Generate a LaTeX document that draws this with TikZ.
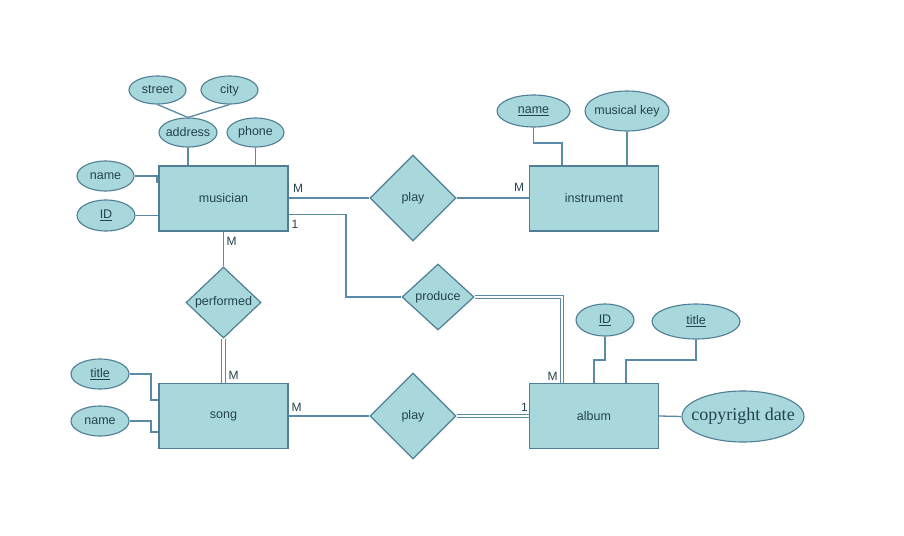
\documentclass[tikz,border=0pt]{standalone}
\usepackage{fontspec}
\setmainfont{Liberation Sans}
\newfontfamily\serifcd{Liberation Serif}
\usetikzlibrary{shapes.geometric}
\definecolor{efill}{HTML}{A8D8DB}
\definecolor{edraw}{HTML}{4F7E95}
\definecolor{lcol}{HTML}{5A8AA5}
\definecolor{tcol}{HTML}{24424F}
\newcommand{\zw}[1]{\makebox[0pt]{#1}}
\begin{document}
\begin{tikzpicture}[x=1pt,y=-1pt, font=\fontsize{12.5}{14}\selectfont, text=tcol,
 entity/.style={rectangle, draw=edraw, fill=efill, line width=1.3pt, minimum width=129pt, minimum height=65pt, inner sep=0},
 rel/.style={diamond, draw=edraw, fill=efill, line width=1.2pt, inner sep=0},
 attr/.style={ellipse, draw=edraw, fill=efill, line width=1.1pt, inner sep=0},
 conn/.style={draw=lcol, line width=1.3pt},
 dbl/.style={draw=lcol, line width=1.1pt, double=white, double distance=2.6pt},
 card/.style={inner sep=0, font=\fontsize{12}{14}\selectfont}]
\fill[white] (0,0) rectangle (904,535);
\useasboundingbox (0,0) rectangle (904,535);

% entities
\node[entity] (mus) at (223.5,198.5) {\raisebox{-1pt}{musician}};
\node[entity] (inst) at (594,198.5) {\raisebox{-1pt}{instrument}};
\node[entity] (song) at (223.5,416) {\raisebox{-1pt}{song}};
\node[entity] (alb) at (594,416) {\raisebox{-1pt}{album}};

% relationships
\node[rel, minimum width=86pt, minimum height=86pt] (play1) at (413,198) {\zw{play}};
\node[rel, minimum width=75pt, minimum height=71pt] (perf) at (223.5,302.5) {\zw{performed}};
\node[rel, minimum width=72pt, minimum height=66pt] (prod) at (438,297) {\zw{produce}};
\node[rel, minimum width=86pt, minimum height=86pt] (play2) at (413,416) {\zw{play}};

% attributes
\node[attr, minimum width=57pt, minimum height=28pt] (street) at (157.5,90) {\zw{street}};
\node[attr, minimum width=57pt, minimum height=28pt] (city) at (229.5,90) {\zw{city}};
\node[attr, minimum width=58pt, minimum height=29pt] (addr) at (188,132.5) {\zw{address}};
\node[attr, minimum width=57pt, minimum height=29pt] (phone) at (255.5,132.5) {\zw{phone}};
\node[attr, minimum width=57pt, minimum height=30pt] (mname) at (105.5,176) {\zw{name}};
\node[attr, minimum width=58pt, minimum height=31pt] (mid) at (106,215.5) {\zw{\underline{ID}}};
\node[attr, minimum width=73pt, minimum height=32pt] (iname) at (533.5,111) {\zw{\underline{name}}};
\node[attr, minimum width=84pt, minimum height=40pt] (ikey) at (627,111) {\zw{musical key}};
\node[attr, minimum width=58pt, minimum height=30pt] (stitle) at (100,374) {\zw{\underline{title}}};
\node[attr, minimum width=58pt, minimum height=30pt] (sname) at (100,421) {\zw{name}};
\node[attr, minimum width=58pt, minimum height=32pt] (aid) at (605,320) {\zw{\underline{ID}}};
\node[attr, minimum width=88pt, minimum height=35pt] (atitle) at (696,321.5) {\zw{\underline{title}}};
\node[attr, minimum width=122pt, minimum height=51pt] (copy) at (743,416.5) {\zw{\serifcd\fontsize{18}{20}\selectfont copyright date}};

% attribute connectors
\draw[conn] (street.south) -- (addr.north);
\draw[conn] (city.south) -- (addr.north);
\draw[conn] (addr.south) -- (addr.south |- mus.north);
\draw[conn] (phone.south) -- (phone.south |- mus.north);
\draw[conn] (mname.east) -- (157,176) -- (157,182) -- (mus.west |- 0,182);
\draw[conn] (mid.east) -- (mid.east -| mus.west);
\draw[conn] (iname.south) -- (533.5,143) -| (inst.north -| 562,0);
\draw[conn] (ikey.south) -- (ikey.south |- inst.north);
\draw[conn] (stitle.east) -- (151,374) |- (song.west |- 0,400);
\draw[conn] (sname.east) -- (151,421) |- (song.west |- 0,432);
\draw[conn] (aid.south) -- (605,360) -| (alb.north -| 594,0);
\draw[conn] (atitle.south) -- (696,360) -| (alb.north -| 626,0);
\draw[conn] (alb.east) -- (copy.west);

% relationship connectors
\draw[conn] (mus.east |- play1.west) -- (play1.west);
\draw[conn] (play1.east) -- (play1.east -| inst.west);
\draw[conn] (mus.east |- 0,214.5) -- (346,214.5) |- (prod.west);
\draw[dbl] (prod.east) -| (alb.north -| 562,0);
\draw[conn] (mus.south) -- (perf.north);
\draw[dbl] (perf.south) -- (perf.south |- song.north);
\draw[conn] (song.east) -- (play2.west);
\draw[dbl] (play2.east) -- (play2.east -| alb.west);

% cardinalities
\node[card] (c1) at (298,188.5) {M};
\node[card] (c2) at (519,187.5) {M};
\node[card] (c3) at (295,224.5) {1};
\node[card] (c4) at (231.5,241.5) {M};
\node[card] (c5) at (233.5,375.5) {M};
\node[card] (c6) at (296.5,407.5) {M};
\node[card] (c7) at (524.5,407.5) {1};
\node[card] (c8) at (552.5,376.5) {M};
\end{tikzpicture}
\end{document}
